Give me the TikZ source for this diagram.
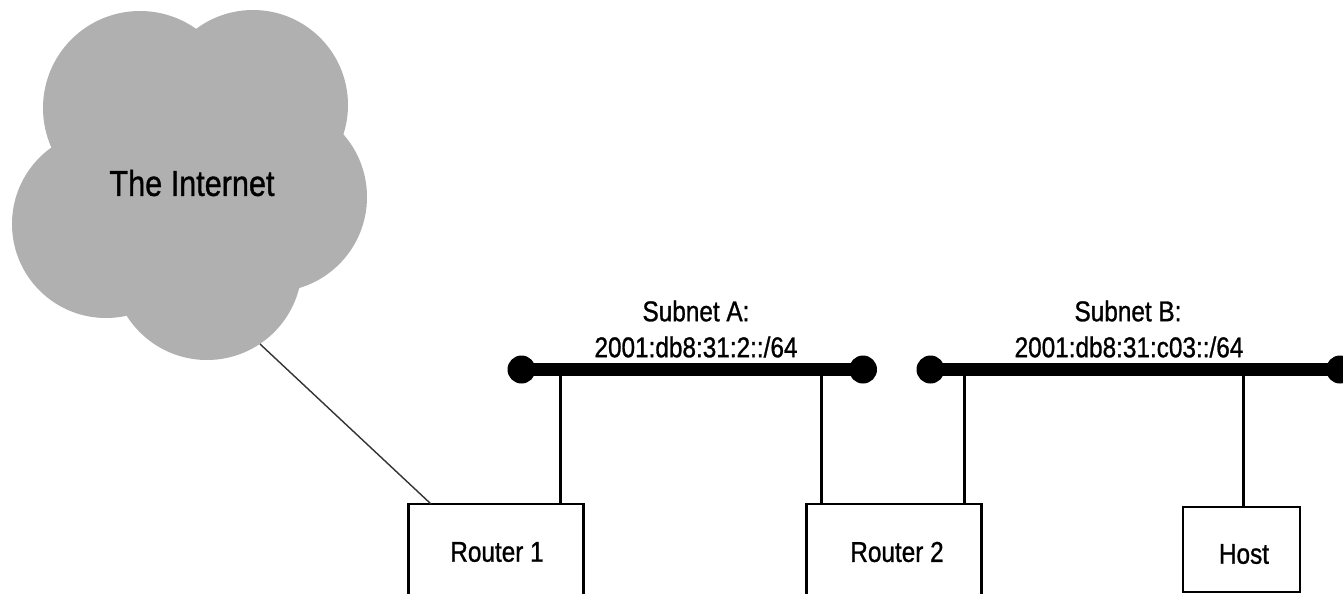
\documentclass[tikz,border=0pt]{standalone}
\usepackage{fontspec}
\setmainfont[FakeStretch=0.85,FakeBold=1]{Liberation Sans}

\begin{document}
\begin{tikzpicture}[x=0.02cm, y=-0.02cm,
    box/.style={draw, line width=1.5pt, inner sep=0pt, minimum width=3.5cm},
    label/.style={font=\fontsize{16.3}{19}\selectfont, inner sep=0pt},
    bus/.style={line width=7pt},
    drop/.style={line width=1.5pt},
    dot/.style={circle, fill=black, inner sep=0pt, minimum size=0.56cm}]
    \definecolor{cloudgray}{HTML}{B0B0B0}
    % 画布大小, 底部的方框被裁掉
    \clip (0,0) rectangle (1343,593);
    \fill[white] (0,0) rectangle (1343,593);

    % 云
    \fill[cloudgray] (140,108) circle (97);
    \fill[cloudgray] (253,105) circle (95);
    \fill[cloudgray] (106,224) circle (94);
    \fill[cloudgray] (272,197) circle (95);
    \fill[cloudgray] (207,265) circle (95);
    \fill[cloudgray] (190,190) circle (90);
    \node[font=\fontsize{20.5}{24}\selectfont, inner sep=0pt] (internet) at (192,183) {The Internet};

    % 方框
    \node[box, minimum height=1.92cm] (router1) at (496,552) {};
    \node[box, minimum height=1.92cm] (router2) at (894,552) {};
    \node[box, minimum width=2.34cm, minimum height=1.7cm] (host) at (1241.5,549.5) {};
    \node[label] (routerlabel1) at (497,552) {Router 1};
    \node[label] (routerlabel2) at (897,552) {Router 2};
    \node[label] (hostlabel) at (1244,554) {Host};

    % 子网 A
    \node[dot] (a1) at (521.5,369.5) {};
    \node[dot] (a2) at (863,369.5) {};
    \draw[bus] (a1.center) -- (a2.center);
    \node[label] (subnetA) at (696,311) {Subnet A:};
    \node[label] (prefixA) at (696,347) {2001:db8:31:2::/64};

    % 子网 B
    \node[dot] (b1) at (930.5,369.5) {};
    \node[dot] (b2) at (1340,369.5) {};
    \draw[bus] (b1.center) -- (b2.center);
    \node[label] (subnetB) at (1128,311) {Subnet B:};
    \node[label] (prefixB) at (1129,347) {2001:db8:31:c03::/64};

    % 竖线
    \coordinate (tapA1) at (560.5,369.5);
    \coordinate (tapA2) at (821.5,369.5);
    \coordinate (tapB1) at (964.5,369.5);
    \coordinate (tapB2) at (1243.5,369.5);
    \draw[drop] (tapA1) -- (tapA1 |- router1.north);
    \draw[drop] (tapA2) -- (tapA2 |- router2.north);
    \draw[drop] (tapB1) -- (tapB1 |- router2.north);
    \draw[drop] (tapB2) -- (tapB2 |- host.north);

    % 云到 Router 1 的细线
    \coordinate (cloudedge) at (260,344);
    \coordinate (routertop) at (431,504);
    \draw[line width=0.8pt, black!80] (cloudedge) -- (routertop);
\end{tikzpicture}
\end{document}
